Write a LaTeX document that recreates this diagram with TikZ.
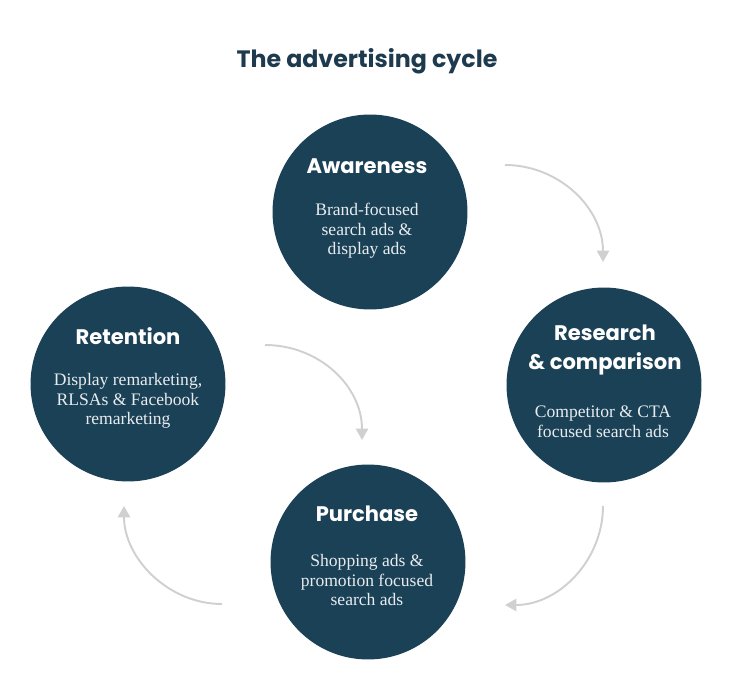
\documentclass[tikz,border=0pt]{standalone}
\usepackage{fontspec}
\setmainfont{Liberation Serif}
\newfontfamily\headfont{Poppins}
\usetikzlibrary{positioning,arrows.meta}
\definecolor{cyclenavy}{RGB}{27,65,87}
\definecolor{titlenavy}{RGB}{30,58,78}
\definecolor{arcgray}{RGB}{208,208,208}

\begin{document}
\begin{tikzpicture}[x=0.02cm,y=-0.02cm,
  stage/.style={circle, fill=cyclenavy, minimum size=3.9cm, inner sep=0pt},
  head/.style={text=white, font=\headfont\bfseries\fontsize{12}{17}\selectfont, align=center},
  body/.style={text=white!90!cyclenavy, font=\fontsize{10}{11.2}\selectfont, align=center},
  cyc/.style={arcgray, line width=1.1pt, -{Triangle[width=7pt,length=6.5pt]}}]
\useasboundingbox (0,0) rectangle (734,699);
\node[text=titlenavy, font=\headfont\bfseries\fontsize{13.5}{16}\selectfont] (title) at (367,61) {The advertising cycle};
% the four stages
\node[stage] (aware) at (370,212) {};
\node[stage] (research) at (604,385) {};
\node[stage] (purchase) at (368,562) {};
\node[stage] (retain) at (128,384) {};
\node[head] (awareH) at (367,166) {Awareness};
\node[body] (awareB) at (367,231) {Brand-focused\\search ads \&\\display ads};
\node[head] (researchH) at (605,350) {Research\\\& comparison};
\node[body] (researchB) at (603,422) {Competitor \& CTA\\focused search ads};
\node[head] (purchaseH) at (367,514) {Purchase};
\node[body] (purchaseB) at (367,580) {Shopping ads \&\\promotion focused\\search ads};
\node[head] (retainH) at (128,336) {Retention};
\node[body] (retainB) at (128,401) {Display remarketing,\\RLSAs \& Facebook\\remarketing};
% arcs between stages
\coordinate (arcAs) at (505,165); \coordinate (arcAe) at (603,262);
\coordinate (arcBs) at (603,506); \coordinate (arcBe) at (505,605);
\coordinate (arcCs) at (222,604); \coordinate (arcCe) at (124,506);
\coordinate (arcDs) at (265,345); \coordinate (arcDe) at (362,440);
\draw[cyc] (arcAs) .. controls (559,165) and (603,208) .. (arcAe);
\draw[cyc] (arcBs) .. controls (603,560) and (559,605) .. (arcBe);
\draw[cyc] (arcCs) .. controls (168,604) and (124,558) .. (arcCe);
\draw[cyc] (arcDs) .. controls (319,345) and (362,386) .. (arcDe);
\end{tikzpicture}
\end{document}
